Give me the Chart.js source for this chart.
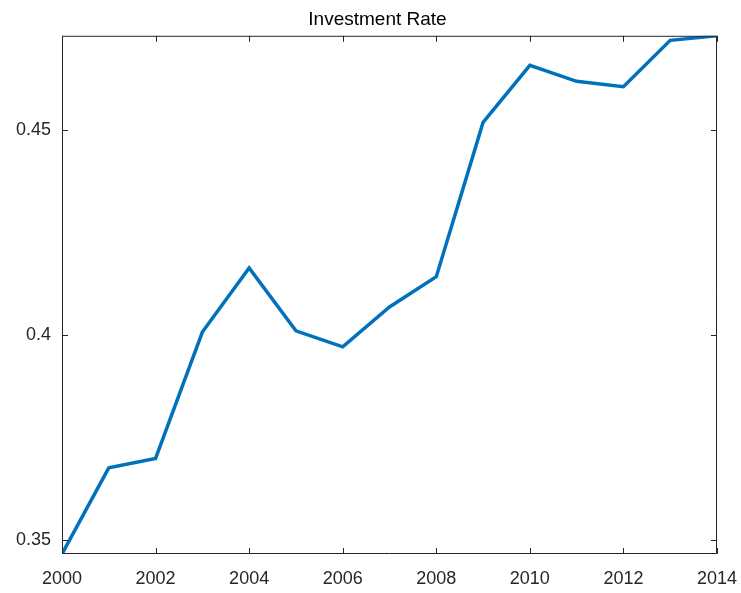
<!DOCTYPE html>
<html>
<head>
<meta charset="utf-8">
<title>Investment Rate</title>
<script src="https://cdn.jsdelivr.net/npm/chart.js@4.4.1/dist/chart.umd.min.js"></script>
<style>
    html, body { margin: 0; padding: 0; background: #fff; }
    #wrap { width: 741px; height: 593px; }
</style>
</head>
<body>
<div id="wrap"><canvas id="rateChart" width="741" height="593"></canvas></div>
<script>
// Serie anual de la tasa de inversión
const years = [2000, 2001, 2002, 2003, 2004, 2005, 2006, 2007, 2008, 2009, 2010, 2011, 2012, 2013, 2014];
const rates = [0.3466, 0.3676, 0.3699, 0.4007, 0.4163, 0.4010, 0.3971, 0.4068, 0.4142, 0.4518, 0.4657, 0.4618, 0.4605, 0.4718, 0.4729];
const xTicks = [2000, 2002, 2004, 2006, 2008, 2010, 2012, 2014];
const yTicks = [0.35, 0.4, 0.45];

const axisColor = '#262626';
const fontFamily = '"Liberation Sans", Arial, Helvetica, sans-serif';

// Marco completo con marcas de graduación hacia dentro (estilo MATLAB)
const boxTicks = {
    id: 'boxTicks',
    afterDatasetsDraw(chart) {
        const { ctx, chartArea: a, scales } = chart;
        const len = 6;
        ctx.save();
        ctx.strokeStyle = axisColor;
        ctx.lineWidth = 1;
        ctx.beginPath();
        ctx.rect(a.left + 0.5, a.top + 0.5, a.right - a.left - 1, a.bottom - a.top - 1);
        xTicks.forEach(v => {
            const px = Math.round(scales.x.getPixelForValue(v)) + 0.5;
            ctx.moveTo(px, a.bottom); ctx.lineTo(px, a.bottom - len);
            ctx.moveTo(px, a.top); ctx.lineTo(px, a.top + len);
        });
        yTicks.forEach(v => {
            const py = Math.round(scales.y.getPixelForValue(v)) + 0.5;
            ctx.moveTo(a.left, py); ctx.lineTo(a.left + len, py);
            ctx.moveTo(a.right, py); ctx.lineTo(a.right - len, py);
        });
        ctx.stroke();
        ctx.restore();
    }
};

function initChart() {
    const canvas = document.getElementById('rateChart');
    if (typeof Chart === 'undefined') {
        console.error('Chart.js no está cargado');
        return;
    }

    new Chart(canvas.getContext('2d'), {
        type: 'line',
        data: {
            datasets: [{
                data: years.map((y, i) => ({ x: y, y: rates[i] })),
                borderColor: '#0072BD',
                borderWidth: 3.5,
                pointRadius: 0,
                fill: false,
                tension: 0
            }]
        },
        options: {
            responsive: false,
            animation: false,
            layout: { padding: { left: 14, right: 0, top: 0, bottom: 0 } },
            plugins: {
                legend: { display: false },
                tooltip: { enabled: false },
                title: {
                    display: true,
                    text: 'Investment Rate',
                    color: '#000',
                    font: { family: fontFamily, size: 19, weight: 'normal' },
                    padding: { top: 8, bottom: 5 }
                }
            },
            scales: {
                x: {
                    type: 'linear',
                    min: years[0],
                    max: years[years.length - 1],
                    grid: { display: false },
                    border: { display: false },
                    afterBuildTicks: s => { s.ticks = xTicks.map(v => ({ value: v })); },
                    afterFit: s => {
                        s.height = 39;
                        s.paddingLeft = 0;
                        s.paddingRight = 0;
                    },
                    ticks: {
                        color: axisColor,
                        font: { family: fontFamily, size: 18 },
                        padding: 6,
                        maxRotation: 0,
                        autoSkip: false,
                        callback: v => String(v)
                    }
                },
                y: {
                    min: Math.min(...rates),
                    max: Math.max(...rates),
                    grid: { display: false },
                    border: { display: false },
                    afterBuildTicks: s => { s.ticks = yTicks.map(v => ({ value: v })); },
                    afterFit: s => { s.width = 48; },
                    ticks: {
                        color: axisColor,
                        font: { family: fontFamily, size: 18 },
                        padding: 3,
                        autoSkip: false,
                        callback: v => String(v)
                    }
                },
                // margen derecho vacío (sin etiquetas) para dejar sitio al "2014"
                margenDer: {
                    position: 'right',
                    grid: { display: false },
                    border: { display: false },
                    ticks: { display: false },
                    afterFit: s => { s.width = 24; }
                }
            }
        },
        plugins: [boxTicks]
    });
}

window.addEventListener('DOMContentLoaded', initChart);
</script>
</body>
</html>
